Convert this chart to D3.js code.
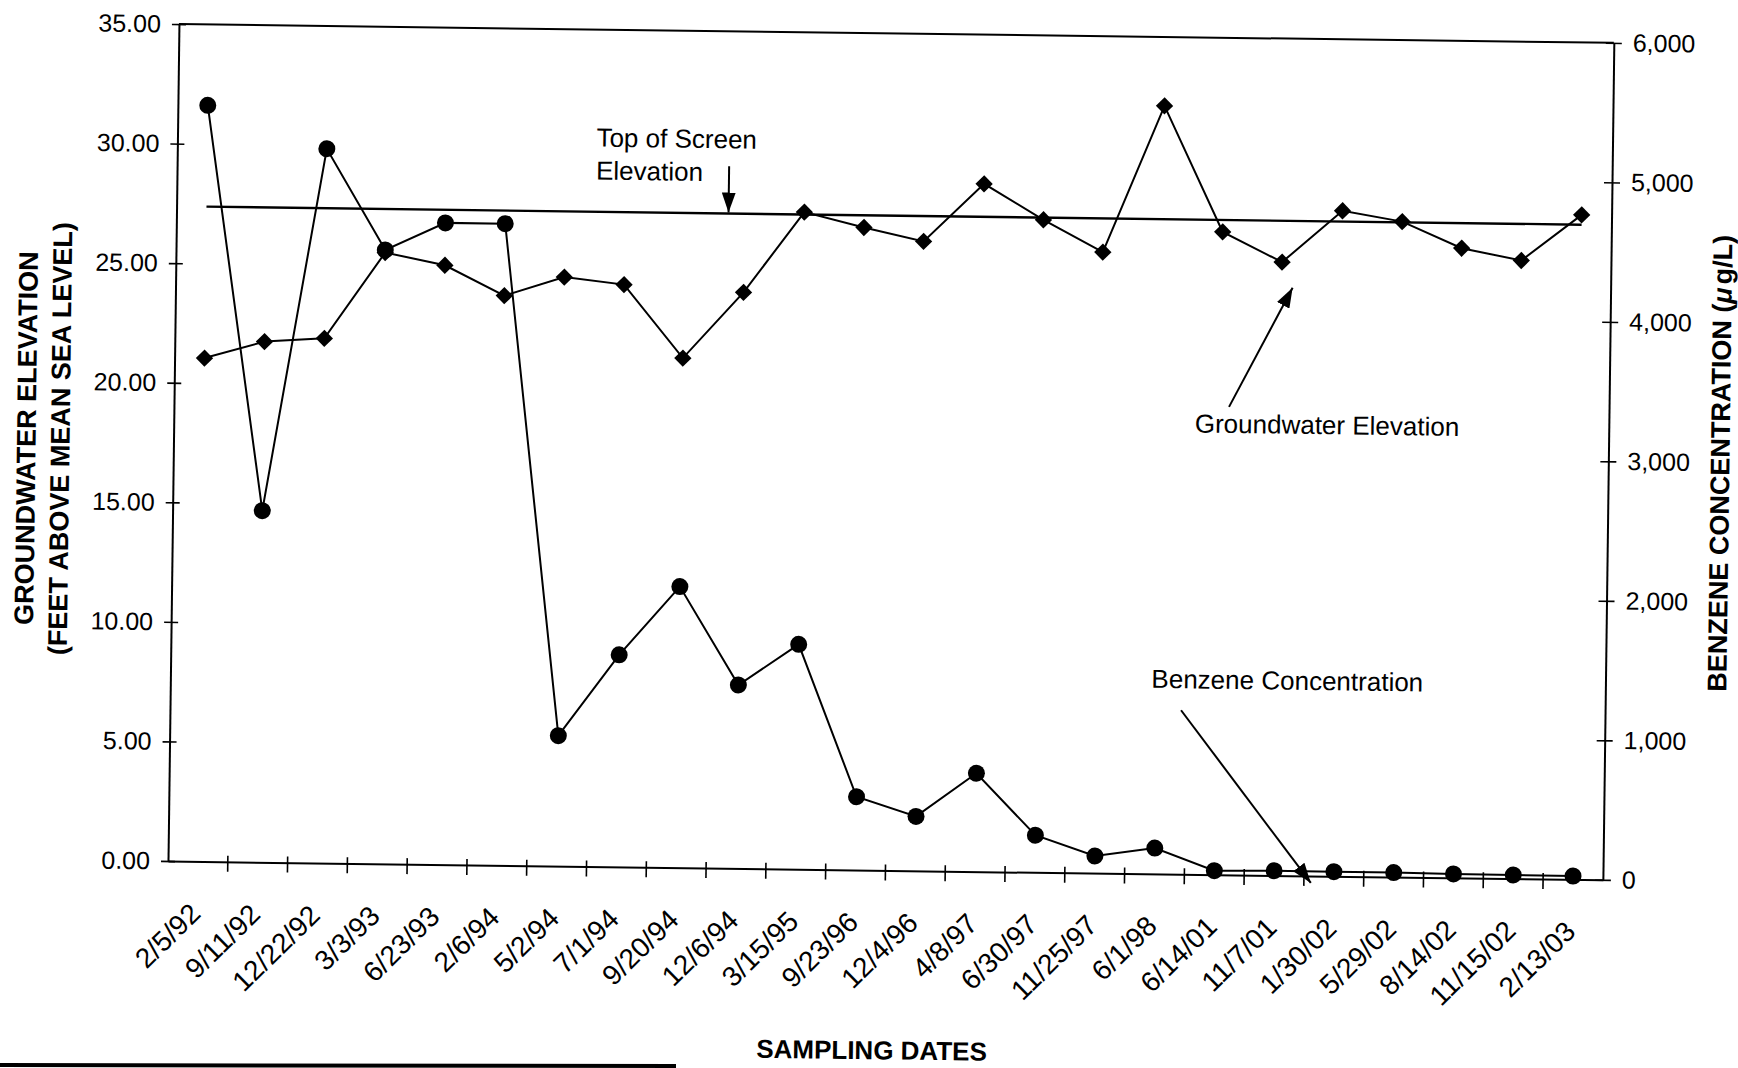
<!DOCTYPE html>
<html>
<head>
<meta charset="utf-8">
<script src="https://cdn.jsdelivr.net/npm/d3@7/dist/d3.min.js"></script>
<style>
  body { margin: 0; background: #fff; }
  text { font-family: "Liberation Sans", Arial, sans-serif; fill: #000; }
</style>
</head>
<body>
<div id="chart"></div>
<script>
// ---- data ----
var dates = ['2/5/92', '9/11/92', '12/22/92', '3/3/93', '6/23/93', '2/6/94', '5/2/94', '7/1/94',
             '9/20/94', '12/6/94', '3/15/95', '9/23/96', '12/4/96', '4/8/97', '6/30/97', '11/25/97',
             '6/1/98', '6/14/01', '11/7/01', '1/30/02', '5/29/02', '8/14/02', '11/15/02', '2/13/03'];
// groundwater elevation, feet above mean sea level (left axis)
var groundwater = [21.05, 21.77, 21.94, 25.56, 25.06, 23.82, 24.63, 24.35,
                   21.31, 24.09, 27.48, 26.87, 26.32, 28.76, 27.29, 25.97,
                   32.12, 26.88, 25.65, 27.83, 27.41, 26.33, 25.85, 27.79];
// benzene concentration, ug/L (right axis)
var benzene = [5420, 2520, 5120, 4400, 4600, 4600, 935, 1520,
               2015, 1315, 1612, 525, 390, 705, 266, 123,
               185, 29, 34, 33, 32, 28, 26, 24];
var screenTop = 27.38;
var leftTicks = [0, 5, 10, 15, 20, 25, 30, 35];
var rightTicks = [0, 1000, 2000, 3000, 4000, 5000, 6000];

// ---- layout ----
var svgwidth = 1738;
var svgheight = 1068;
var plotLeft = 168, plotRight = 1603, plotTop = 24, plotBottom = 861;

var svg = d3.select('#chart')
            .append('svg')
            .attr('width', svgwidth)
            .attr('height', svgheight);
svg.append('rect').attr('width', svgwidth).attr('height', svgheight).attr('fill', '#fff');

var defs = svg.append('defs');
defs.append('marker')
    .attr('id', 'arrow')
    .attr('markerUnits', 'userSpaceOnUse')
    .attr('markerWidth', 22).attr('markerHeight', 14)
    .attr('refX', 20).attr('refY', 7)
    .attr('orient', 'auto')
    .append('path')
    .attr('d', 'M0,0 L20,7 L0,14 Z')
    .attr('fill', '#000');

// the scan is tilted a little clockwise
var g = svg.append('g')
           .attr('transform', 'rotate(0.75,' + plotLeft + ',' + plotBottom + ')');

var x = d3.scaleBand().domain(dates).range([plotLeft, plotRight]).padding(0);
var cx = function(d) { return x(d) + x.bandwidth() / 2; };
var yL = d3.scaleLinear().domain([0, 35]).range([plotBottom, plotTop]);
var yR = d3.scaleLinear().domain([0, 6000]).range([plotBottom, plotTop]);

// left axis
var axL = g.append('g')
    .attr('transform', 'translate(' + plotLeft + ',0)')
    .call(d3.axisLeft(yL).tickValues(leftTicks).tickFormat(d3.format('.2f'))
          .tickSizeInner(7).tickSizeOuter(0).tickPadding(11));
axL.selectAll('.tick line').attr('x1', 7);

// right axis
var axR = g.append('g')
    .attr('transform', 'translate(' + plotRight + ',0)')
    .call(d3.axisRight(yR).tickValues(rightTicks).tickFormat(d3.format(','))
          .tickSizeInner(8).tickSizeOuter(0).tickPadding(11));
axR.selectAll('.tick line').attr('x1', -8);

// bottom axis, labels at category centres, ticks between categories
var axB = g.append('g')
    .attr('transform', 'translate(0,' + plotBottom + ')')
    .call(d3.axisBottom(x).tickSize(0).tickSizeOuter(0));
axB.selectAll('.tick text')
    .attr('y', 0).attr('dy', 0)
    .attr('transform', 'translate(5,54) rotate(-45)')
    .style('text-anchor', 'end');
axB.selectAll('.between')
    .data(dates.slice(1))
    .join('line')
    .attr('class', 'between')
    .attr('x1', d => x(d)).attr('x2', d => x(d))
    .attr('y1', -6).attr('y2', 10)
    .attr('stroke', '#000').attr('stroke-width', 1.6);

[axL, axR, axB].forEach(function(a) {
    a.attr('font-family', null).attr('font-size', 25);
    a.selectAll('.domain').attr('stroke-width', 2);
    a.selectAll('.tick line').attr('stroke-width', 1.6);
});
axB.attr('font-size', 28);

// top frame
g.append('line')
    .attr('x1', plotLeft).attr('x2', plotRight)
    .attr('y1', plotTop).attr('y2', plotTop)
    .attr('stroke', '#000').attr('stroke-width', 2);

// top of screen elevation
g.append('line')
    .attr('x1', cx(dates[0])).attr('x2', cx(dates[dates.length - 1]))
    .attr('y1', yL(screenTop)).attr('y2', yL(screenTop))
    .attr('stroke', '#000').attr('stroke-width', 2.4);

// benzene series
g.append('path')
    .datum(benzene)
    .attr('fill', 'none').attr('stroke', '#000').attr('stroke-width', 2)
    .attr('d', d3.line().x((d, i) => cx(dates[i])).y(d => yR(d)));
g.selectAll('.bz')
    .data(benzene)
    .join('circle')
    .attr('class', 'bz')
    .attr('cx', (d, i) => cx(dates[i]))
    .attr('cy', d => yR(d))
    .attr('r', 8.5)
    .attr('fill', '#000');

// groundwater series
g.append('path')
    .datum(groundwater)
    .attr('fill', 'none').attr('stroke', '#000').attr('stroke-width', 2)
    .attr('d', d3.line().x((d, i) => cx(dates[i])).y(d => yL(d)));
g.selectAll('.gw')
    .data(groundwater)
    .join('path')
    .attr('class', 'gw')
    .attr('d', d3.symbol(d3.symbolSquare, 150))
    .attr('transform', (d, i) => 'translate(' + cx(dates[i]) + ',' + yL(d) + ') rotate(45)')
    .attr('fill', '#000');

// annotations
g.append('text').attr('x', 587).attr('y', 141).style('font-size', '26px').text('Top of Screen');
g.append('text').attr('x', 587).attr('y', 174).style('font-size', '26px').text('Elevation');
g.append('line')
    .attr('x1', 720).attr('y1', 159).attr('x2', 720).attr('y2', yL(screenTop) - 1)
    .attr('stroke', '#000').attr('stroke-width', 2).attr('marker-end', 'url(#arrow)');

g.append('text').attr('x', 1189).attr('y', 419).style('font-size', '26px').text('Groundwater Elevation');
g.append('line')
    .attr('x1', 1223).attr('y1', 393).attr('x2', 1285).attr('y2', 273)
    .attr('stroke', '#000').attr('stroke-width', 2).attr('marker-end', 'url(#arrow)');

g.append('text').attr('x', 1149).attr('y', 675).style('font-size', '26px').text('Benzene Concentration');
g.append('line')
    .attr('x1', 1179).attr('y1', 697).attr('x2', 1311).attr('y2', 868)
    .attr('stroke', '#000').attr('stroke-width', 2).attr('marker-end', 'url(#arrow)');

// axis titles
g.append('text')
    .attr('transform', 'translate(30,440) rotate(-90)')
    .style('text-anchor', 'middle').style('font-size', '27px').style('font-weight', 'bold')
    .text('GROUNDWATER ELEVATION');
g.append('text')
    .attr('transform', 'translate(64,440) rotate(-90)')
    .style('text-anchor', 'middle').style('font-size', '27px').style('font-weight', 'bold')
    .text('(FEET ABOVE MEAN SEA LEVEL)');

var rt = g.append('text')
    .attr('transform', 'translate(1724,443) rotate(-90)')
    .style('text-anchor', 'middle').style('font-size', '27px').style('font-weight', 'bold');
rt.append('tspan').text('BENZENE CONCENTRATION (');
rt.append('tspan').style('font-style', 'italic').text('\u03BC');
rt.append('tspan').attr('dx', 3).text('g/L)');

g.append('text')
    .attr('x', 874).attr('y', 1050)
    .style('text-anchor', 'middle').style('font-size', '26px').style('font-weight', 'bold')
    .text('SAMPLING DATES');

// page edge left by the scan
svg.append('line')
    .attr('x1', 0).attr('y1', 1065).attr('x2', 676).attr('y2', 1066)
    .attr('stroke', '#000').attr('stroke-width', 4);
</script>
</body>
</html>
